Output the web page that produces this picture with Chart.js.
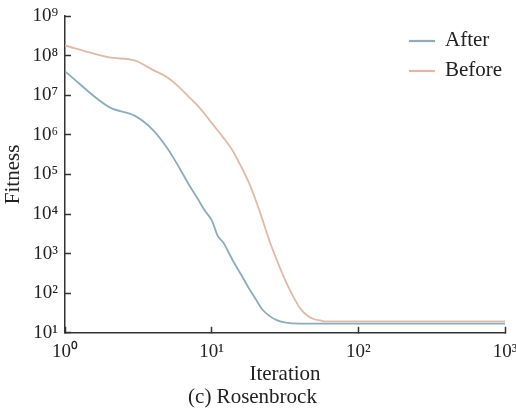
<!DOCTYPE html>
<html>
<head>
<meta charset="utf-8">
<script src="https://cdn.jsdelivr.net/npm/chart.js@4.4.1/dist/chart.umd.min.js"></script>
<style>
  html, body { margin: 0; padding: 0; background: #ffffff; }
  #wrap { width: 516px; height: 412px; position: relative; }
</style>
</head>
<body>
<div id="wrap"><canvas id="c" width="516" height="412"></canvas></div>
<script>
// ---- data ----
const seriesNames = ['After', 'Before'];

const afterIter = [1, 2, 3, 4, 5, 6, 7, 8, 9, 10, 11, 12, 13, 14, 16, 18, 20, 22, 25, 28, 32, 40, 1000];
const afterFitness = [4e7, 5e6, 3e6, 1.3e6, 4.5e5, 1.5e5, 5.5e4, 2.5e4, 1.2e4, 7e3, 2.8e3, 1.9e3, 1.1e3, 650, 280, 130, 70, 40, 26, 20.5, 18, 17, 17];

const beforeIter = [1, 2, 3, 4, 5, 6, 7, 8, 9, 10, 12, 14, 16, 18, 20, 22, 25, 28, 31, 34, 37, 40, 45, 50, 55, 60, 1000];
const beforeFitness = [1.8e8, 9e7, 7.5e7, 4.3e7, 2.8e7, 1.6e7, 9e6, 5.5e6, 3.3e6, 2e6, 8.5e5, 3.8e5, 1.5e5, 6e4, 2.2e4, 8e3, 1.9e3, 650, 260, 125, 68, 42, 27, 22, 20.5, 19.5, 19.5];

const xTickValues = [1, 10, 100, 1000];
const xTickLabels = ['10\u2070', '10\u00B9', '10\u00B2', '10\u00B3'];
const yTickValues = [1e1, 1e2, 1e3, 1e4, 1e5, 1e6, 1e7, 1e8, 1e9];
const yTickLabels = ['10\u00B9', '10\u00B2', '10\u00B3', '10\u2074', '10\u2075', '10\u2076', '10\u2077', '10\u2078', '10\u2079'];

const xTitle = 'Iteration';
const yTitle = 'Fitness';
const chartTitle = '(c) Rosenbrock';

// ---- styles ----
const FONT = "'Liberation Serif', 'Times New Roman', serif";
const TEXT = '#222222';
const AXIS = '#333333';
const colors = ['#8aadbb', '#dfbaa6'];

function pairs(xs, ys) { return xs.map((x, i) => ({ x: x, y: ys[i] })); }

const legendPlugin = {
  id: 'insideLegend',
  afterDraw(chart) {
    const ctx = chart.ctx;
    ctx.save();
    chart.data.datasets.forEach((ds, i) => {
      const y = 41 + 30 * i;
      ctx.strokeStyle = ds.borderColor;
      ctx.lineWidth = 2.2;
      ctx.beginPath();
      ctx.moveTo(409, y);
      ctx.lineTo(435, y);
      ctx.stroke();
      ctx.fillStyle = TEXT;
      ctx.font = '21px ' + FONT;
      ctx.textAlign = 'left';
      ctx.textBaseline = 'middle';
      ctx.fillText(ds.label, 445, y - 1);
    });
    ctx.restore();
  }
};

new Chart(document.getElementById('c'), {
  type: 'line',
  data: {
    datasets: [
      { label: seriesNames[0], data: pairs(afterIter, afterFitness), borderColor: colors[0], backgroundColor: colors[0],
        borderWidth: 1.8, pointRadius: 0, cubicInterpolationMode: 'monotone', fill: false },
      { label: seriesNames[1], data: pairs(beforeIter, beforeFitness), borderColor: colors[1], backgroundColor: colors[1],
        borderWidth: 1.8, pointRadius: 0, cubicInterpolationMode: 'monotone', fill: false }
    ]
  },
  options: {
    responsive: false,
    animation: false,
    devicePixelRatio: 1,
    layout: { padding: { top: 16, right: 11, left: 0, bottom: 0 } },
    plugins: {
      legend: { display: false },
      tooltip: { enabled: false },
      title: {
        display: true, position: 'bottom', text: chartTitle, color: TEXT,
        font: { family: FONT, size: 21, weight: 'normal', lineHeight: 1.2 },
        padding: { top: 0, bottom: 2 }
      }
    },
    scales: {
      x: {
        type: 'logarithmic', min: 1, max: 1000,
        afterBuildTicks: (s) => { s.ticks = xTickValues.map(v => ({ value: v })); },
        afterFit: (s) => { s.height = 52; s.paddingLeft = 0; s.paddingRight = 0; },
        ticks: {
          autoSkip: false, maxRotation: 0, color: TEXT, padding: 14,
          font: { family: FONT, size: 19 },
          callback: (v) => { const i = xTickValues.indexOf(v); return i >= 0 ? xTickLabels[i] : ''; }
        },
        grid: { drawOnChartArea: false, drawTicks: true, tickLength: -6, tickWidth: 1.5, tickColor: AXIS },
        border: { display: true, color: AXIS, width: 1.5 },
        title: { display: true, text: xTitle, color: TEXT, font: { family: FONT, size: 21, lineHeight: 1 }, padding: { top: 0, bottom: 0 } }
      },
      y: {
        type: 'logarithmic', min: 10, max: 1e9,
        afterBuildTicks: (s) => { s.ticks = yTickValues.map(v => ({ value: v })); },
        afterFit: (s) => { s.width = 65; s.paddingTop = 0; s.paddingBottom = 0; },
        ticks: {
          autoSkip: false, color: TEXT, padding: 13,
          font: { family: FONT, size: 19 },
          callback: (v) => { const i = yTickValues.indexOf(v); return i >= 0 ? yTickLabels[i] : ''; }
        },
        grid: { drawOnChartArea: false, drawTicks: true, tickLength: -6, tickWidth: 1.5, tickColor: AXIS },
        border: { display: true, color: AXIS, width: 1.5 },
        title: { display: true, text: yTitle, color: TEXT, font: { family: FONT, size: 21, lineHeight: 1 }, padding: { top: 3, bottom: 0 } }
      }
    }
  },
  plugins: [legendPlugin]
});
</script>
</body>
</html>
